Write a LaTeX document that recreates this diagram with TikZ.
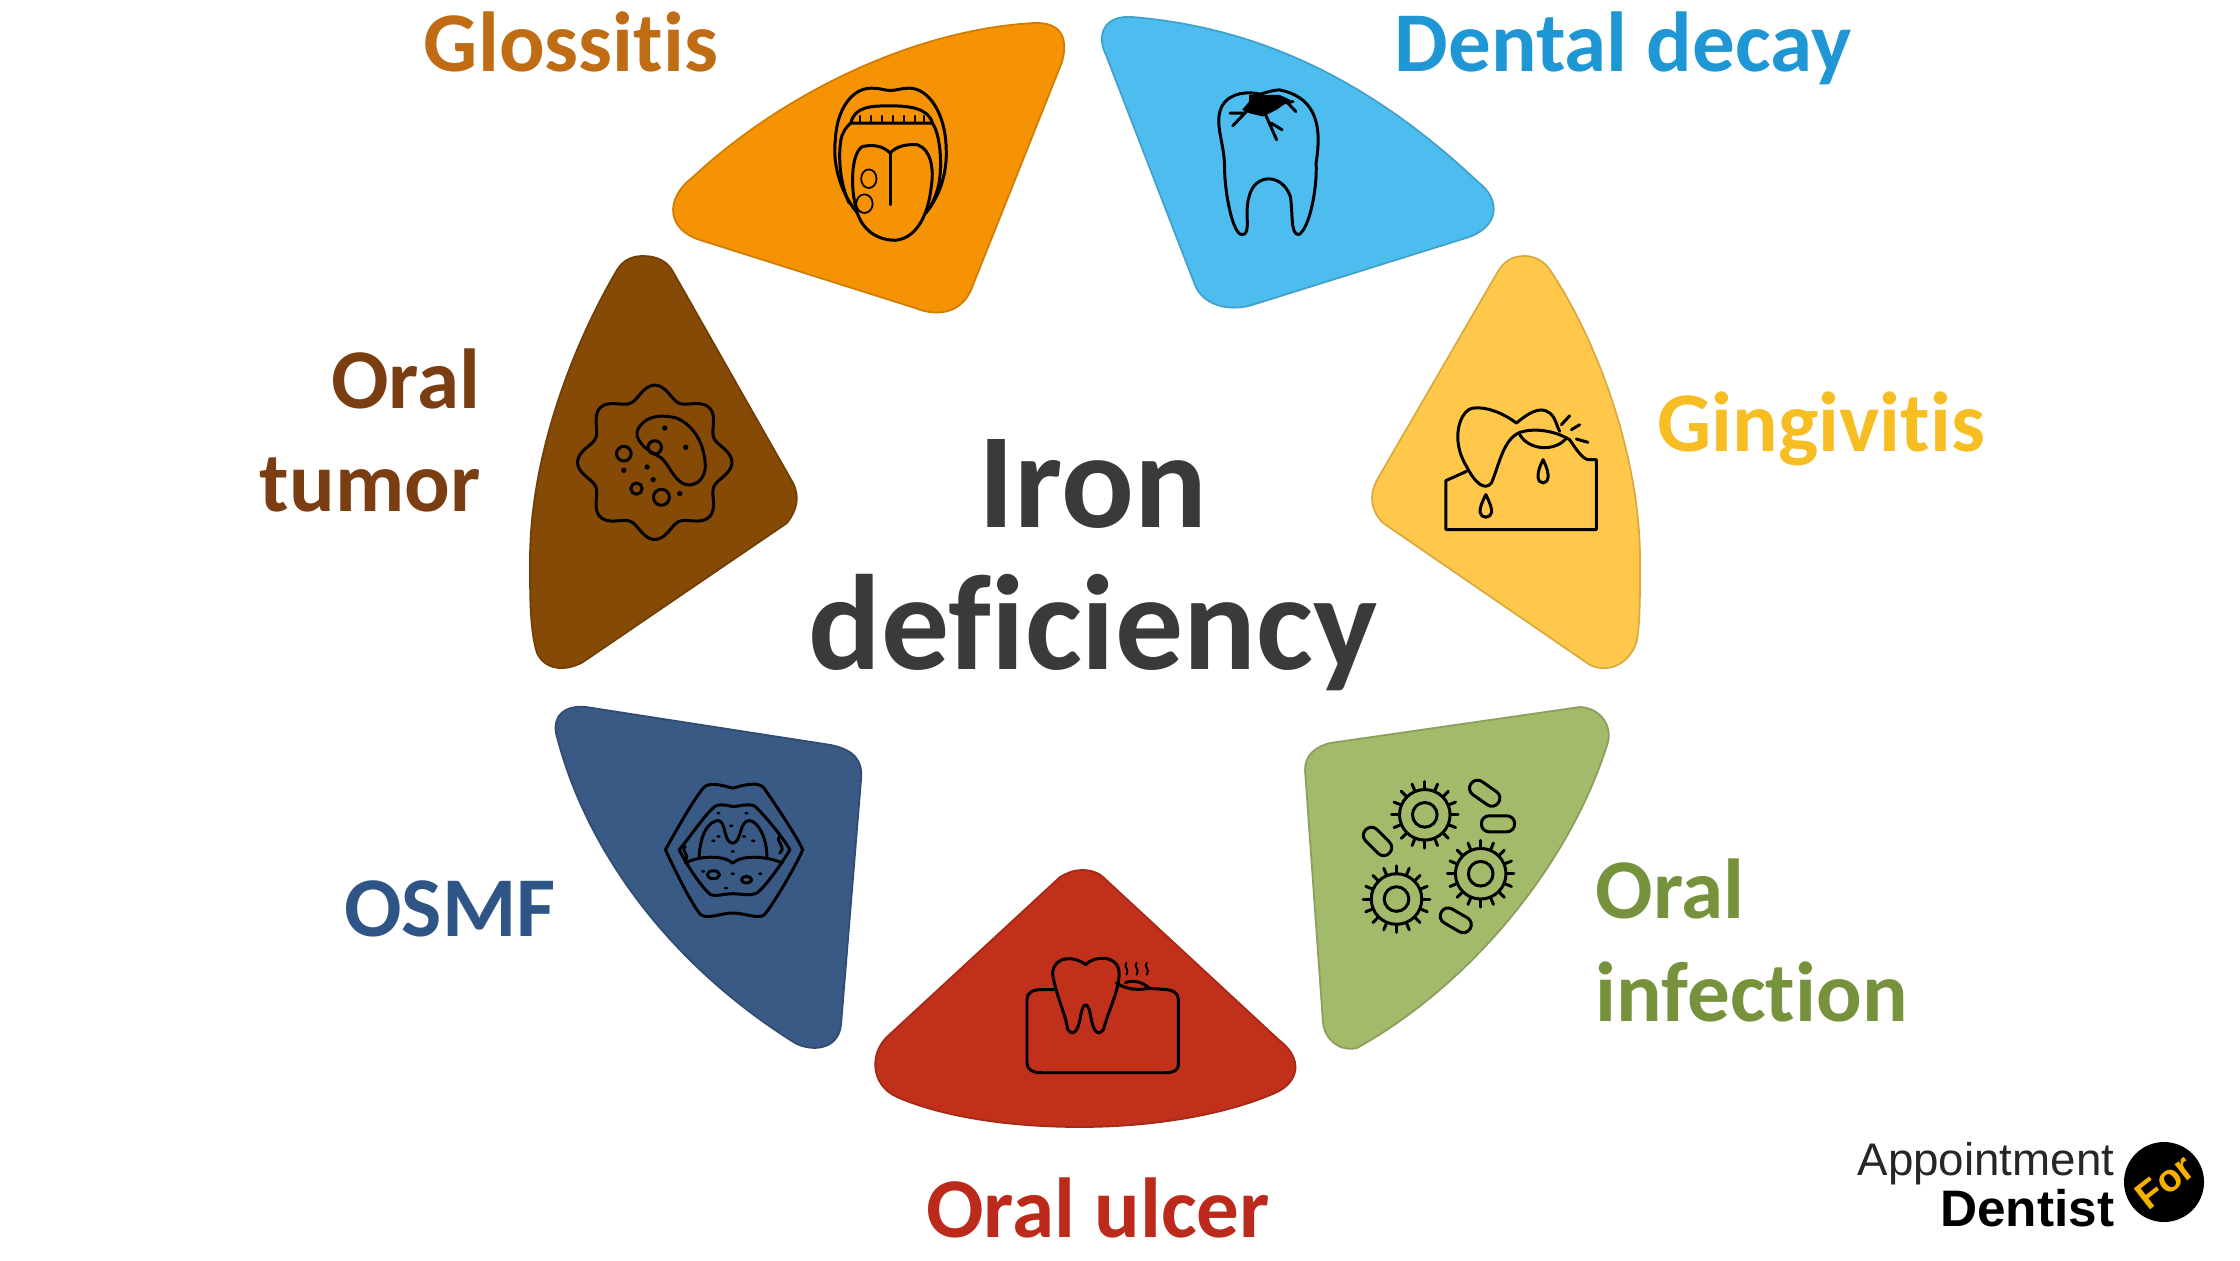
\documentclass[tikz,border=0pt]{standalone}
\usepackage{fontspec}
\setmainfont{Carlito}[Ligatures=NoCommon]
\newfontfamily\logofont{Liberation Sans}
\definecolor{orangepetal}{HTML}{F59304}
\definecolor{bluepetal}{HTML}{4DBDEF}
\definecolor{yellowpetal}{HTML}{FFC84A}
\definecolor{brownpetal}{HTML}{854A06}
\definecolor{navypetal}{HTML}{3A5A86}
\definecolor{redpetal}{HTML}{C1301A}
\definecolor{greenpetal}{HTML}{A3BA6B}
\definecolor{orangetext}{HTML}{C06C14}
\definecolor{bluetext}{HTML}{1F97D4}
\definecolor{yellowtext}{HTML}{F6BE22}
\definecolor{browntext}{HTML}{7A3E12}
\definecolor{navytext}{HTML}{2F5486}
\definecolor{redtext}{HTML}{BB2A1A}
\definecolor{greentext}{HTML}{76923C}
\definecolor{centertext}{HTML}{3A3A3A}
\definecolor{logoyellow}{HTML}{F5B000}
\tikzset{
  petal/.style={fill=#1,draw=#1!85!black,line width=0.5pt},
  label/.style={font=\fontsize{24.2}{29.3}\selectfont\bfseries,text=#1,inner sep=0pt},
  icon/.style={line width=0.85pt,line join=round,line cap=round},
  zoomed/.style={x=0.003333cm,y=-0.003333cm},
  zoomtop/.style={x=0.005485cm,y=-0.003333cm},
  zoomlow/.style={x=0.005102cm,y=-0.003333cm},
}
\begin{document}
\begin{tikzpicture}[x=0.01cm,y=-0.01cm]
    \useasboundingbox (0,0) rectangle (2240,1260);

    % petals
    \fill[white] (0,0) rectangle (2240,1260);
    \draw[petal=orangepetal] (1034,23) .. controls (1063,22) and (1068,40) .. (1062,62) -- (973,285) .. controls (964,312) and (940,318) .. (915,308) -- (700,240) .. controls (668,230) and (663,200) .. (693,177) .. controls (775,100) and (907,30) .. (1034,23) -- cycle;
    \draw[petal=bluepetal] (1132,17) .. controls (1104,15) and (1096,35) .. (1106,55) -- (1195,285) .. controls (1203,305) and (1228,312) .. (1252,305) -- (1466,238) .. controls (1499,228) and (1502,200) .. (1478,182) .. controls (1375,85) and (1265,28) .. (1132,17) -- cycle;
    \draw[petal=yellowpetal] (1525,256) .. controls (1510,256) and (1503,263) .. (1497,273) -- (1377,480) .. controls (1368,497) and (1372,512) .. (1383,523) -- (1590,665) .. controls (1612,675) and (1632,660) .. (1637,640) .. controls (1640,620) and (1640,600) .. (1640,560) .. controls (1640,460) and (1600,345) .. (1550,270) .. controls (1545,262) and (1535,256) .. (1525,256) -- cycle;
    \draw[petal=brownpetal] (643,256) .. controls (658,256) and (667,262) .. (672,270) -- (793,483) .. controls (800,497) and (797,510) .. (787,523) -- (583,662) .. controls (565,672) and (545,670) .. (537,653) .. controls (530,630) and (530,600) .. (530,560) .. controls (530,460) and (570,350) .. (617,270) .. controls (623,260) and (632,256) .. (643,256) -- cycle;
    \draw[petal=navypetal] (586,707) .. controls (565,705) and (553,715) .. (556,733) .. controls (585,850) and (670,965) .. (795,1043) .. controls (812,1052) and (838,1050) .. (841,1025) -- (861,780) .. controls (863,760) and (854,750) .. (831,745) -- cycle;
    \draw[petal=redpetal] (1083,870) .. controls (1073,870) and (1067,873) .. (1060,877) -- (889,1035) .. controls (869,1052) and (870,1085) .. (897,1097) .. controls (945,1118) and (1014,1127) .. (1080,1127) .. controls (1152,1127) and (1225,1115) .. (1275,1093) .. controls (1300,1082) and (1303,1058) .. (1279,1040) -- (1103,877) .. controls (1099,873) and (1091,870) .. (1083,870) -- cycle;
    \draw[petal=greenpetal] (1580,707) .. controls (1600,708) and (1612,725) .. (1608,742) .. controls (1570,865) and (1470,985) .. (1357,1048) .. controls (1340,1052) and (1325,1040) .. (1323,1023) -- (1305,770) .. controls (1305,755) and (1315,747) .. (1330,743) -- cycle;

    % tongue
    \begin{scope}[shift={(660,0)},zoomtop,icon]
        \draw (360,640) .. controls (325,570) and (315,480) .. (320,420) .. controls (322,330) and (350,265) .. (385,265) .. controls (405,265) and (410,272) .. (420,272) .. controls (430,272) and (440,265) .. (455,265) .. controls (490,265) and (520,340) .. (522,440) .. controls (525,520) and (510,590) .. (485,640);
        \draw (345,610) .. controls (328,550) and (325,470) .. (330,420) .. controls (332,400) and (340,380) .. (348,370);
        \draw (497,370) .. controls (510,400) and (515,480) .. (510,540) .. controls (508,570) and (500,600) .. (495,615);
        \draw (348,370) .. controls (355,320) and (385,318) .. (420,318) .. controls (455,318) and (490,325) .. (497,370) -- cycle;
        \foreach \tx in {365,385,405,425,445,465,482}
            \draw[line width=0.5pt] (\tx,348) -- (\tx,368);
        \draw (420,460) .. controls (405,435) and (385,435) .. (370,440) .. controls (350,455) and (345,560) .. (360,640) .. controls (370,690) and (395,722) .. (430,722) .. controls (470,715) and (490,640) .. (495,560) .. controls (500,510) and (495,450) .. (470,435) .. controls (450,432) and (430,440) .. (420,460);
        \draw (420,460) -- (420,615);
        \draw[line width=0.5pt] (381,537) ellipse [x radius=14,y radius=28];
        \draw[line width=0.5pt] (373,612) ellipse [x radius=15,y radius=28];
    \end{scope}

    % decayed tooth
    \begin{scope}[shift={(660,0)},zoomtop,icon]
        \draw (1095,283) .. controls (1075,275) and (1040,275) .. (1025,320) .. controls (1010,370) and (1030,430) .. (1030,500) .. controls (1030,580) and (1045,705) .. (1062,705) .. controls (1080,705) and (1065,640) .. (1075,590) .. controls (1085,520) and (1135,520) .. (1150,590) .. controls (1155,640) and (1150,705) .. (1165,705) .. controls (1185,690) and (1200,560) .. (1197,490) .. controls (1210,360) and (1190,290) .. (1130,270) .. controls (1120,270) and (1105,278) .. (1095,283);
        \fill (1075,285) -- (1130,285) -- (1150,300) -- (1125,330) -- (1100,350) -- (1075,340) -- (1062,330) -- (1075,305) -- cycle;
        \draw (1070,335) -- (1045,378) (1065,340) -- (1040,340) (1105,345) -- (1125,420) (1115,370) -- (1135,390) (1140,300) -- (1160,335) (1135,310) -- (1155,305);
    \end{scope}

    % inflamed gum
    \begin{scope}[shift={(1360,250)},zoomed,icon]
        \draw (320,665) -- (258,693) -- (258,840) -- (710,840) -- (710,630) -- (688,630);
        \draw (470,520) .. controls (430,490) and (380,470) .. (340,475) .. controls (300,480) and (270,570) .. (320,650) .. controls (345,700) and (375,725) .. (395,700) .. controls (420,640) and (430,570) .. (480,548) .. controls (520,535) and (580,540) .. (630,570) .. controls (650,600) and (670,630) .. (688,630);
        \draw (470,520) .. controls (500,495) and (540,465) .. (570,490) .. controls (590,505) and (590,530) .. (600,545);
        \draw (480,555) .. controls (510,605) and (590,605) .. (620,565);
        \draw (378,735) .. controls (350,790) and (360,800) .. (378,803) .. controls (396,800) and (406,790) .. (378,735) -- cycle;
        \draw (550,630) .. controls (525,680) and (535,698) .. (550,700) .. controls (565,698) and (575,680) .. (550,630) -- cycle;
        \draw (605,525) -- (630,498) (635,540) -- (660,525) (650,568) -- (685,578);
    \end{scope}

    % tumor cell
    \begin{scope}[shift={(520,240)},zoomed,icon]
        \draw plot[smooth cycle,samples=145,domain=0:357.5] ({405+(212+20*cos(8*\x))*cos(\x)},{668+(212+20*cos(8*\x))*sin(\x)});
        \draw (360,560) .. controls (385,525) and (430,525) .. (470,535) .. controls (520,555) and (555,610) .. (557,680) .. controls (555,725) and (520,745) .. (490,732) .. controls (460,715) and (450,680) .. (425,655) .. controls (400,640) and (365,625) .. (352,590) .. controls (350,575) and (355,565) .. (360,560) -- cycle;
        \foreach \cx/\cy/\cr in {405/623/20,312/642/22,350/747/17,425/773/24}
            \draw (\cx,\cy) circle [radius=\cr];
        \foreach \dx/\dy in {435/565,498/623,312/692,382/682,400/720,480/762}
            \fill (\dx,\dy) circle [radius=8];
    \end{scope}

    % mouth
    \begin{scope}[shift={(540,700)},zoomlow,icon]
        \draw (246,450) .. controls (255,425) and (300,300) .. (320,265) .. controls (330,245) and (355,255) .. (378,265) .. controls (400,255) and (425,245) .. (438,262) .. controls (460,310) and (508,420) .. (515,450) .. controls (508,480) and (460,610) .. (440,645) .. controls (430,660) and (400,640) .. (378,640) .. controls (355,640) and (330,660) .. (315,645) .. controls (295,610) and (255,480) .. (246,450) -- cycle;
        \draw (273,450) .. controls (290,420) and (330,330) .. (345,318) .. controls (360,310) and (370,320) .. (380,320) .. controls (390,320) and (405,310) .. (420,318) .. controls (435,335) and (480,420) .. (490,450) .. controls (475,490) and (440,565) .. (425,580) .. controls (410,590) and (395,582) .. (378,582) .. controls (360,582) and (345,592) .. (335,585) .. controls (320,570) and (285,490) .. (273,450) -- cycle;
        \draw (312,470) .. controls (315,400) and (330,365) .. (350,362) .. controls (365,365) and (360,430) .. (378,430) .. controls (395,430) and (390,365) .. (410,362) .. controls (430,365) and (445,420) .. (445,470);
        \draw (285,490) .. controls (310,468) and (360,465) .. (378,490) .. controls (395,465) and (445,468) .. (475,490);
        \draw (340,525) circle [radius=12];
        \draw (405,540) circle [radius=10];
        \draw (285,440) .. controls (275,455) and (295,465) .. (285,480);
        \draw (470,410) .. controls (460,425) and (485,440) .. (470,460);
        \foreach \dx/\dy in {350/410,400/410,378/455,340/423,418/423,350/340,405/340,375/378,378/522,432/522,320/515,365/565}
            \fill (\dx,\dy) circle [radius=4];
    \end{scope}

    % aching tooth
    \begin{scope}[shift={(540,700)},zoomlow,icon]
        \draw (1008,870) -- (985,870) .. controls (965,870) and (955,880) .. (955,900) -- (955,1090) .. controls (955,1110) and (965,1120) .. (985,1120) -- (1225,1120) .. controls (1245,1120) and (1252,1110) .. (1252,1095) -- (1252,900) .. controls (1252,880) and (1240,870) .. (1225,870) -- (1195,866);
        \draw (1070,795) .. controls (1050,770) and (1010,765) .. (1005,820) .. controls (1010,880) and (1030,940) .. (1035,990) .. controls (1045,1010) and (1055,1000) .. (1060,950) .. controls (1065,905) and (1075,905) .. (1080,950) .. controls (1085,1000) and (1095,1010) .. (1105,990) .. controls (1115,930) and (1140,860) .. (1135,810) .. controls (1130,770) and (1090,765) .. (1070,795) -- cycle;
        \draw (1130,850) .. controls (1145,865) and (1165,875) .. (1195,866) .. controls (1180,845) and (1160,840) .. (1148,850);
        \foreach \wx in {1150,1170,1190}
            \draw[line width=0.55pt] (\wx,790) .. controls (\wx-8,800) and (\wx+8,810) .. (\wx,825);
    \end{scope}

    % germs
    \begin{scope}[shift={(1290,700)},zoomed,icon]
        \foreach \gx/\gy in {405/345,320/598,573/522} {
            \draw (\gx,\gy) circle [radius=37];
            \draw (\gx,\gy) circle [radius=76];
            \foreach \ang in {0,22.5,...,337.5}
                \draw[shift={(\gx,\gy)}] (\ang:76) -- (\ang:100);
        }
        \foreach \gx/\gy/\ang in {585/280/-35,625/372/0,263/425/-45,498/662/-30}
            \draw[shift={(\gx,\gy)},rotate=\ang,rounded corners=2.2pt] (-50,-24) rectangle (50,24);
    \end{scope}

    % labels
    \node[label=orangetext,anchor=base] (glossitis) at (571,71) {Glossitis};
    \node[label=bluetext,anchor=base] (decay) at (1623,71) {Dental decay};
    \node[label=yellowtext,anchor=base] (gingivitis) at (1821,451) {Gingivitis};
    \node[label=browntext,anchor=east,align=right] (tumor) at (481,430) {Oral\\tumor};
    \node[label=navytext,anchor=base] (osmf) at (450,936) {OSMF};
    \node[label=greentext,anchor=west,align=left] (infection) at (1595,940) {Oral\\infection};
    \node[label=redtext,anchor=base] (ulcer) at (1098,1237) {Oral ulcer};
    \node[font=\fontsize{38.6}{40.5}\selectfont\bfseries,text=centertext,align=center,inner sep=0pt] (iron) at (1093,565) {Iron\\deficiency};

    % logo
    \node[font=\logofont\fontsize{13}{15}\selectfont,text=black!85,anchor=base east,inner sep=0pt] (appointment) at (2115,1175) {Appointment};
    \node[font=\logofont\fontsize{14.6}{16}\selectfont\bfseries,anchor=base east,inner sep=0pt] (dentist) at (2115,1226) {Dentist};
    \fill[black] (2164,1182) circle [radius=40];
    \node[font=\logofont\fontsize{11}{12}\selectfont\bfseries,text=logoyellow,rotate=38,inner sep=0pt] (for) at (2165,1182) {For};
\end{tikzpicture}
\end{document}
